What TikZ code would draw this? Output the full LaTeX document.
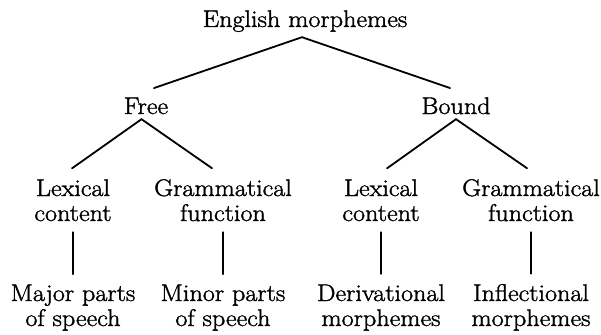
\documentclass[tikz,border=0pt]{standalone}
\usepackage{fontspec}
\setmainfont{Latin Modern Roman}[FakeStretch=1.09, FakeBold=1.5]
\begin{document}
\begin{tikzpicture}[x=1pt,y=-1pt,
  label/.style={inner sep=0pt, outer sep=0pt, anchor=base, align=center,
                font=\fontsize{24}{25}\selectfont},
  branch/.style={line width=1.8pt, line cap=round}]
\useasboundingbox (0,0) rectangle (601,334);

% level 0 and 1 (single-line labels, placed by baseline)
\node[label] (root)  at (305,27)  {English morphemes};
\node[label] (free)  at (146,114) {Free};
\node[label] (bound) at (456,114) {Bound};

% level 2 (two-line labels, placed by the baseline of the last line)
\node[label] (lexA)  at (73,221)  {Lexical\\content};
\node[label] (gramA) at (223,221) {Grammatical\\function};
\node[label] (lexB)  at (381,221) {Lexical\\content};
\node[label] (gramB) at (531,221) {Grammatical\\function};

% level 3
\node[label] (major) at (73,326)  {Major parts\\of speech};
\node[label] (minor) at (223,326) {Minor parts\\of speech};
\node[label] (deriv) at (381,326) {Derivational\\morphemes};
\node[label] (infl)  at (531,326) {Inflectional\\morphemes};

% root branches
\draw[branch] ([xshift=8pt,yshift=9.6pt]free.north)
  -- ([xshift=-3pt,yshift=-5.3pt]root.south)
  -- ([xshift=-6pt,yshift=9.3pt]bound.north);

% free / bound branches
\draw[branch] ([xshift=-1pt,yshift=11pt]lexA.north)
  -- ([xshift=-4.5pt,yshift=-5pt]free.south)
  -- ([xshift=-11pt,yshift=11pt]gramA.north);
\draw[branch] ([xshift=6pt,yshift=11pt]lexB.north)
  -- ([yshift=-5pt]bound.south)
  -- ([xshift=-4pt,yshift=11pt]gramB.north);

% vertical links
\foreach \a/\b in {lexA/major, gramA/minor, lexB/deriv, gramB/infl}
  \draw[branch, shorten <=11pt, shorten >=10.5pt] (\a.south) -- (\b.north);
\end{tikzpicture}
\end{document}
